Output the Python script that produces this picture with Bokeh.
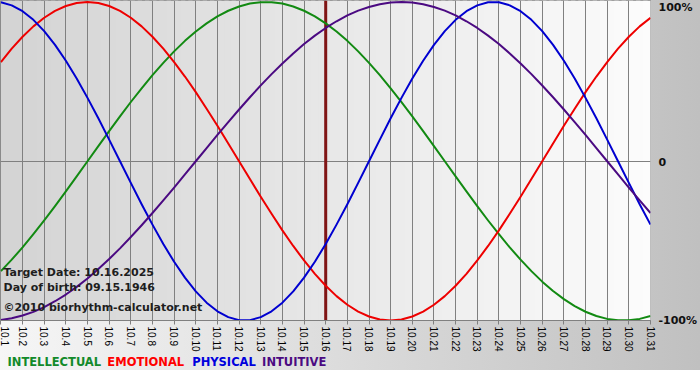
import math
import numpy as np
from bokeh.plotting import figure
from bokeh.layouts import column
from bokeh.models import Range1d, LinearAxis, FixedTicker, Span, Label, Grid, ColumnDataSource
from bokeh.core.properties import value
from bokeh.embed import file_html
from bokeh.resources import INLINE

# ---------------- data ----------------
days = [1, 2, 3, 4, 5, 6, 7, 8, 9, 10, 11, 12, 13, 14, 15, 16,
        17, 18, 19, 20, 21, 22, 23, 24, 25, 26, 27, 28, 29, 30, 31]
tick_labels = ["10.1", "10.2", "10.3", "10.4", "10.5", "10.6", "10.7", "10.8",
               "10.9", "10.10", "10.11", "10.12", "10.13", "10.14", "10.15",
               "10.16", "10.17", "10.18", "10.19", "10.20", "10.21", "10.22",
               "10.23", "10.24", "10.25", "10.26", "10.27", "10.28", "10.29",
               "10.30", "10.31"]

# sample times (day of October, every half day)
t = [1.0, 1.5, 2.0, 2.5, 3.0, 3.5, 4.0, 4.5, 5.0, 5.5, 6.0, 6.5, 7.0, 7.5,
     8.0, 8.5, 9.0, 9.5, 10.0, 10.5, 11.0, 11.5, 12.0, 12.5, 13.0, 13.5,
     14.0, 14.5, 15.0, 15.5, 16.0, 16.5, 17.0, 17.5, 18.0, 18.5, 19.0, 19.5,
     20.0, 20.5, 21.0, 21.5, 22.0, 22.5, 23.0, 23.5, 24.0, 24.5, 25.0, 25.5,
     26.0, 26.5, 27.0, 27.5, 28.0, 28.5, 29.0, 29.5, 30.0, 30.5, 31.0]

intellectual = [-69.0, -61.8, -54.1, -45.8, -37.2, -28.2, -18.9, -9.5,
                0.0, 9.5, 18.9, 28.2, 37.2, 45.8, 54.1, 61.8, 69.0, 75.6,
                81.5, 86.6, 91.0, 94.5, 97.2, 99.0, 99.9, 99.9, 99.0, 97.2,
                94.5, 91.0, 86.6, 81.5, 75.6, 69.0, 61.8, 54.1, 45.8, 37.2,
                28.2, 18.9, 9.5, 0.0, -9.5, -18.9, -28.2, -37.2, -45.8, -54.1,
                -61.8, -69.0, -75.6, -81.5, -86.6, -91.0, -94.5, -97.2, -99.0,
                -99.9, -99.9, -99.0, -97.2]
emotional = [62.3, 70.7, 78.2, 84.7, 90.1, 94.4, 97.5, 99.4, 100.0, 99.4,
             97.5, 94.4, 90.1, 84.7, 78.2, 70.7, 62.3, 53.2, 43.4, 33.0,
             22.3, 11.2, 0.0, -11.2, -22.3, -33.0, -43.4, -53.2, -62.3, -70.7,
             -78.2, -84.7, -90.1, -94.4, -97.5, -99.4, -100.0, -99.4, -97.5,
             -94.4, -90.1, -84.7, -78.2, -70.7, -62.3, -53.2, -43.4, -33.0,
             -22.3, -11.2, 0.0, 11.2, 22.3, 33.0, 43.4, 53.2, 62.3, 70.7,
             78.2, 84.7, 90.1]
physical = [99.8, 97.9, 94.2, 88.8, 81.7, 73.1, 63.1, 52.0, 39.8, 27.0, 13.6,
            0.0, -13.6, -27.0, -39.8, -52.0, -63.1, -73.1, -81.7, -88.8, -94.2,
            -97.9, -99.8, -99.8, -97.9, -94.2, -88.8, -81.7, -73.1, -63.1,
            -52.0, -39.8, -27.0, -13.6, 0.0, 13.6, 27.0, 39.8, 52.0, 63.1,
            73.1, 81.7, 88.8, 94.2, 97.9, 99.8, 99.8, 97.9, 94.2, 88.8, 81.7,
            73.1, 63.1, 52.0, 39.8, 27.0, 13.6, 0.0, -13.6, -27.0, -39.8]
intuitive = [-99.7, -98.6, -96.9, -94.6, -91.6, -87.9, -83.7, -78.9, -73.6,
             -67.7, -61.4, -54.7, -47.6, -40.2, -32.5, -24.6, -16.5, -8.3,
             0.0, 8.3, 16.5, 24.6, 32.5, 40.2, 47.6, 54.7, 61.4, 67.7, 73.6,
             78.9, 83.7, 87.9, 91.6, 94.6, 96.9, 98.6, 99.7, 100.0, 99.7, 98.6,
             96.9, 94.6, 91.6, 87.9, 83.7, 78.9, 73.6, 67.7, 61.4, 54.7, 47.6,
             40.2, 32.5, 24.6, 16.5, 8.3, 0.0, -8.3, -16.5, -24.6, -32.5]

target_day = 16
info_lines = ["Target Date: 10.16.2025", "Day of birth: 09.15.1946",
              "\u00a92010 biorhythm-calculator.net"]
legend_names = ["INTELLECTUAL", "EMOTIONAL", "PHYSICAL", "INTUITIVE"]
y_ticks = [-100, 0, 100]
y_tick_labels = ["-100%", "0", "100%"]

# ---------------- styles ----------------
line_colors = ["#128a12", "#ee0000", "#0000d0", "#4b0a82"]
legend_colors = ["#128a2a", "#ff0000", "#0000dd", "#4b0a82"]
FRAME_W, FRAME_H = 651, 320
TOP_H = 355
X0, X1 = 0.9816, 31
Y0, Y1 = -100.0, 100.94
GRAD = "linear-gradient(to right, #f6f6f6, #c0c0c0)"


def xd(px):
    return X0 + px * (X1 - X0) / FRAME_W


def yd(px):
    return Y1 - px * (Y1 - Y0) / FRAME_H


p = figure(width=700, height=TOP_H, x_range=Range1d(X0, X1), y_range=Range1d(Y0, Y1),
           output_backend="svg", toolbar_location=None,
           x_axis_type=None, y_axis_type=None,
           min_border_left=0, min_border_right=700 - FRAME_W,
           min_border_top=0, min_border_bottom=TOP_H - FRAME_H)
p.border_fill_color = None
p.background_fill_color = None
p.outline_line_color = "#808080"
p.styles = {"background": GRAD}

# plot-area gradient
n = 90
edges = np.linspace(X0, X1, n + 1)
step = edges[1] - edges[0]
shades = np.linspace(0xd4, 0xfc, n).astype(int)
cols = ["#%02x%02x%02x" % (s, s, s) for s in shades]
g = p.quad(left=edges[:-1], right=edges[1:] + step * 0.6, bottom=Y0, top=Y1,
           fill_color=cols, line_color=None)
g.level = "image"

p.add_layout(Grid(dimension=0, ticker=FixedTicker(ticks=days),
                  grid_line_color="#808080", grid_line_width=1))
p.add_layout(Grid(dimension=1, ticker=FixedTicker(ticks=[0]),
                  grid_line_color="#808080", grid_line_width=1))

p.add_layout(Span(location=target_day, dimension="height", line_color="#801515",
                  line_width=3, level="underlay"))

for series, c in zip([intellectual, emotional, physical, intuitive], line_colors):
    p.line(t, series, line_color=c, line_width=2, line_join="round")

# bottom axis
xaxis = LinearAxis(ticker=FixedTicker(ticks=days, minor_ticks=[]),
                   major_label_overrides=dict(zip(days, tick_labels)),
                   major_label_orientation=-math.pi / 2,
                   major_label_text_font="Liberation Sans",
                   major_label_text_font_size="10px",
                   major_label_text_color="#000000",
                   major_label_standoff=2,
                   major_tick_out=4, major_tick_in=0,
                   minor_tick_out=0, minor_tick_in=0,
                   major_tick_line_color="#808080",
                   axis_line_color="#808080")
p.add_layout(xaxis, "below")

# right axis: labels sit a little below their gridlines, as in the original
p.extra_y_ranges = {"labels": Range1d(-100.01, 102.53)}
yaxis = LinearAxis(y_range_name="labels",
                   ticker=FixedTicker(ticks=y_ticks, minor_ticks=[]),
                   major_label_overrides=dict(zip(y_ticks, y_tick_labels)),
                   major_label_text_font="DejaVu Sans",
                   major_label_text_font_size="11px",
                   major_label_text_font_style="bold",
                   major_label_text_color="#111111",
                   major_label_standoff=8,
                   major_tick_out=0, major_tick_in=0,
                   minor_tick_out=0, minor_tick_in=0,
                   axis_line_color=None)
p.add_layout(yaxis, "right")

# info texts
for txt, ypx in zip(info_lines, [272, 286.7, 307]):
    p.add_layout(Label(x=xd(3), y=yd(ypx), text=txt, text_font="DejaVu Sans",
                       text_font_size="11px", text_font_style="bold",
                       text_color="#1e1e1e", text_baseline="middle", text_align="left"))

# legend row (separate strip below the chart; its frame is aligned with the chart's)
LEG_H = 25
p2 = figure(width=700, height=LEG_H, x_range=Range1d(0, FRAME_W), y_range=Range1d(LEG_H, 0),
            output_backend="svg", toolbar_location=None,
            x_axis_type=None, y_axis_type=None,
            min_border_left=0, min_border_right=700 - FRAME_W,
            min_border_top=0, min_border_bottom=0)
p2.border_fill_color = None
p2.background_fill_color = None
p2.outline_line_color = None
p2.xgrid.visible = False
p2.ygrid.visible = False
p2.styles = {"background": GRAD + " 0 0 / 100% 15px no-repeat, #ffffff"}
leg_src = ColumnDataSource(dict(x=[7, 107, 192, 262], y=[6.9, 6.9, 6.9, 6.9],
                                text=legend_names, color=legend_colors))
p2.text(x="x", y="y", text="text", text_color="color", source=leg_src,
        text_font=value("DejaVu Sans"), text_font_size=value("11.5px"),
        text_font_style="bold", text_baseline="middle", text_align="left")

layout = column(p, p2, spacing=0)
open("out.html", "w").write(file_html(layout, INLINE))
